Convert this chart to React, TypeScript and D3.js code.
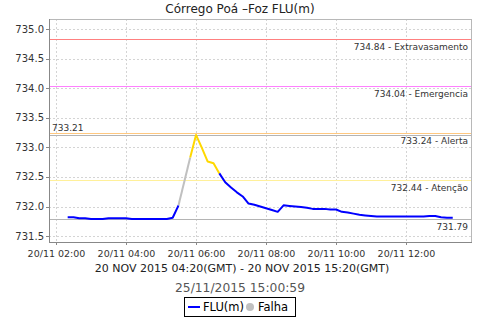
import React, { useEffect, useRef } from 'react';
import * as d3 from 'd3';

// leituras a cada 10 min (hora local), 05:40 sem leitura (falha)
const times = [
  '02:20', '02:30', '02:40', '02:50', '03:00', '03:10', '03:20', '03:30', '03:40', '03:50',
  '04:00', '04:10', '04:20', '04:30', '04:40', '04:50', '05:00', '05:10', '05:20', '05:30',
  '05:50', '06:00', '06:10', '06:20', '06:30', '06:40', '06:50', '07:00', '07:10', '07:20',
  '07:30', '07:40', '07:50', '08:00', '08:10', '08:20', '08:30', '08:40', '08:50', '09:00',
  '09:10', '09:20', '09:30', '09:40', '09:50', '10:00', '10:10', '10:20', '10:30', '10:40',
  '10:50', '11:00', '11:10', '11:20', '11:30', '11:40', '11:50', '12:00', '12:10', '12:20',
  '12:30', '12:40', '12:50', '13:00', '13:10', '13:20'
];
const levels = [
  731.82, 731.82, 731.80, 731.80, 731.79, 731.79, 731.79, 731.80, 731.80, 731.80,
  731.80, 731.79, 731.79, 731.79, 731.79, 731.79, 731.79, 731.79, 731.81, 732.02,
  732.83, 733.21, 732.99, 732.76, 732.73, 732.56, 732.41, 732.32, 732.24, 732.17,
  732.05, 732.03, 732.00, 731.97, 731.94, 731.91, 732.02, 732.01, 732.00, 731.99,
  731.98, 731.96, 731.96, 731.96, 731.95, 731.95, 731.91, 731.90, 731.88, 731.86,
  731.85, 731.84, 731.83, 731.83, 731.83, 731.83, 731.83, 731.83, 731.83, 731.83,
  731.83, 731.84, 731.84, 731.82, 731.81, 731.81
];

const limitValues = [734.84, 734.04, 733.24, 732.44];
const limitNames = ['Extravasamento', 'Emergencia', 'Alerta', 'Atenção'];
const limitColors = ['#ff8080', '#ff80ff', '#ffc880', '#fff09a'];

const yTicks = [731.5, 732.0, 732.5, 733.0, 733.5, 734.0, 734.5, 735.0];
const xTicks = ['02:00', '04:00', '06:00', '08:00', '10:00', '12:00'];

const title = 'Córrego Poá –Foz FLU(m)';
const period = '20 NOV 2015 04:20(GMT) - 20 NOV 2015 15:20(GMT)';
const stamp = '25/11/2015 15:00:59';

export default function App() {
  const ref = useRef<SVGSVGElement>(null);

  useEffect(() => {
    const W = 480, H = 320;
    const m = { top: 19, right: 8, bottom: 78, left: 49 };
    const svg = d3.select(ref.current);
    svg.selectAll('*').remove();

    const parse = d3.utcParse('%Y-%m-%d %H:%M');
    const t = (s: string) => parse('2015-11-20 ' + s) as Date;
    const data = times.map((s, i) => ({ date: t(s), v: levels[i] }));

    const x = d3.scaleUtc().domain([t('01:48'), t('13:53')]).range([m.left, W - m.right]);
    const y = d3.scaleLinear().domain([731.40, 735.17]).range([H - m.bottom, m.top]);
    const px = (v: number) => Math.round(v) + 0.5;
    const x0 = m.left, x1 = W - m.right, y0 = H - m.bottom, y1 = m.top;

    svg.append('rect').attr('width', W).attr('height', H).attr('fill', '#fff');

    // grade
    svg.append('g').selectAll('line').data(yTicks).enter().append('line')
      .attr('x1', x0).attr('x2', x1)
      .attr('y1', d => px(y(d))).attr('y2', d => px(y(d)))
      .attr('stroke', '#d4d4d4').attr('stroke-dasharray', '2,2');
    svg.append('g').selectAll('line').data(xTicks).enter().append('line')
      .attr('y1', y1).attr('y2', y0)
      .attr('x1', d => px(x(t(d)))).attr('x2', d => px(x(t(d))))
      .attr('stroke', '#d4d4d4').attr('stroke-dasharray', '2,2');

    // cotas de alerta
    const lim = svg.append('g');
    limitValues.forEach((v, i) => {
      lim.append('line').attr('x1', x0).attr('x2', x1)
        .attr('y1', px(y(v))).attr('y2', px(y(v)))
        .attr('stroke', limitColors[i]).attr('stroke-width', 1);
      lim.append('text').attr('x', x1 - 4).attr('y', y(v) + 11)
        .attr('text-anchor', 'end').attr('font-size', 9).attr('fill', '#333')
        .text(v.toFixed(2) + ' - ' + limitNames[i]);
    });

    // max / min
    const vmax = d3.max(levels) as number, vmin = d3.min(levels) as number;
    [vmax, vmin].forEach(v => {
      lim.append('line').attr('x1', x0).attr('x2', x1)
        .attr('y1', px(y(v))).attr('y2', px(y(v)))
        .attr('stroke', '#b4b4b4');
    });
    lim.append('text').attr('x', x0 + 3).attr('y', y(vmax) - 4)
      .attr('font-size', 9).attr('fill', '#333').text(vmax.toFixed(2));
    lim.append('text').attr('x', x1 - 4).attr('y', y(vmin) + 11)
      .attr('text-anchor', 'end').attr('font-size', 9).attr('fill', '#333').text(vmin.toFixed(2));

    // serie: cinza nas falhas, amarelo acima da cota de atencao
    const colorOf = (a: any, b: any) => {
      if (+b.date - +a.date > 10 * 60 * 1000) return '#c0c0c0';
      if (b.v > limitValues[3]) return '#ffd800';
      return '#0000ff';
    };
    const runs: { color: string, pts: any[] }[] = [];
    for (let i = 1; i < data.length; i++) {
      const c = colorOf(data[i - 1], data[i]);
      const last = runs[runs.length - 1];
      if (last && last.color === c) last.pts.push(data[i]);
      else runs.push({ color: c, pts: [data[i - 1], data[i]] });
    }
    const line = d3.line<any>().x(d => x(d.date)).y(d => y(d.v));
    svg.append('g').selectAll('path').data(runs).enter().append('path')
      .attr('d', d => line(d.pts))
      .attr('fill', 'none').attr('stroke', d => d.color)
      .attr('stroke-width', 2).attr('stroke-linejoin', 'round');

    // moldura e eixos
    svg.append('line').attr('x1', x0).attr('x2', x1).attr('y1', y1 + 0.5).attr('y2', y1 + 0.5).attr('stroke', '#b8b8b8');
    svg.append('line').attr('x1', x1 - 0.5).attr('x2', x1 - 0.5).attr('y1', y1).attr('y2', y0).attr('stroke', '#b8b8b8');
    svg.append('line').attr('x1', x0 + 0.5).attr('x2', x0 + 0.5).attr('y1', y1).attr('y2', y0 + 1).attr('stroke', '#888');
    svg.append('line').attr('x1', x0).attr('x2', x1).attr('y1', y0 + 0.5).attr('y2', y0 + 0.5).attr('stroke', '#888');

    const yAx = svg.append('g');
    yTicks.forEach(v => {
      yAx.append('line').attr('x1', x0 - 3).attr('x2', x0)
        .attr('y1', px(y(v))).attr('y2', px(y(v))).attr('stroke', '#888');
      yAx.append('text').attr('x', x0 - 5).attr('y', y(v) + 3.5)
        .attr('text-anchor', 'end').attr('font-size', 10).attr('fill', '#333')
        .text(d3.format('.1f')(v));
    });
    const fmt = d3.utcFormat('%d/%m %H:%M');
    const xAx = svg.append('g');
    xTicks.forEach(s => {
      const xx = px(x(t(s)));
      xAx.append('line').attr('x1', xx).attr('x2', xx)
        .attr('y1', y0).attr('y2', y0 + 3).attr('stroke', '#888');
      xAx.append('text').attr('x', xx).attr('y', y0 + 15)
        .attr('text-anchor', 'middle').attr('font-size', 9.5).attr('fill', '#333')
        .text(fmt(t(s)));
    });

    // textos
    svg.append('text').attr('x', W / 2).attr('y', 13).attr('text-anchor', 'middle')
      .attr('font-size', 12).attr('fill', '#222').text(title);
    svg.append('text').attr('x', W / 2 + 2).attr('y', 272).attr('text-anchor', 'middle')
      .attr('font-size', 11).attr('fill', '#222').text(period);
    svg.append('text').attr('x', W / 2).attr('y', 292).attr('text-anchor', 'middle')
      .attr('font-size', 12.3).attr('fill', '#555').text(stamp);

    // legenda
    const lg = svg.append('g');
    lg.append('rect').attr('x', 184.5).attr('y', 297.5).attr('width', 111).attr('height', 19)
      .attr('fill', '#fff').attr('stroke', '#000');
    lg.append('line').attr('x1', 188).attr('x2', 200).attr('y1', 307).attr('y2', 307)
      .attr('stroke', '#0000ff').attr('stroke-width', 2);
    lg.append('text').attr('x', 203).attr('y', 311).attr('font-size', 11.5).attr('fill', '#000').text('FLU(m)');
    lg.append('circle').attr('cx', 250).attr('cy', 307).attr('r', 4).attr('fill', '#c0c0c0');
    lg.append('text').attr('x', 258).attr('y', 311).attr('font-size', 11.5).attr('fill', '#000').text('Falha');
  }, []);

  return (
    <svg ref={ref} width={480} height={320}
      style={{ position: 'absolute', left: 0, top: 0, fontFamily: '"DejaVu Sans", sans-serif' }} />
  );
}
